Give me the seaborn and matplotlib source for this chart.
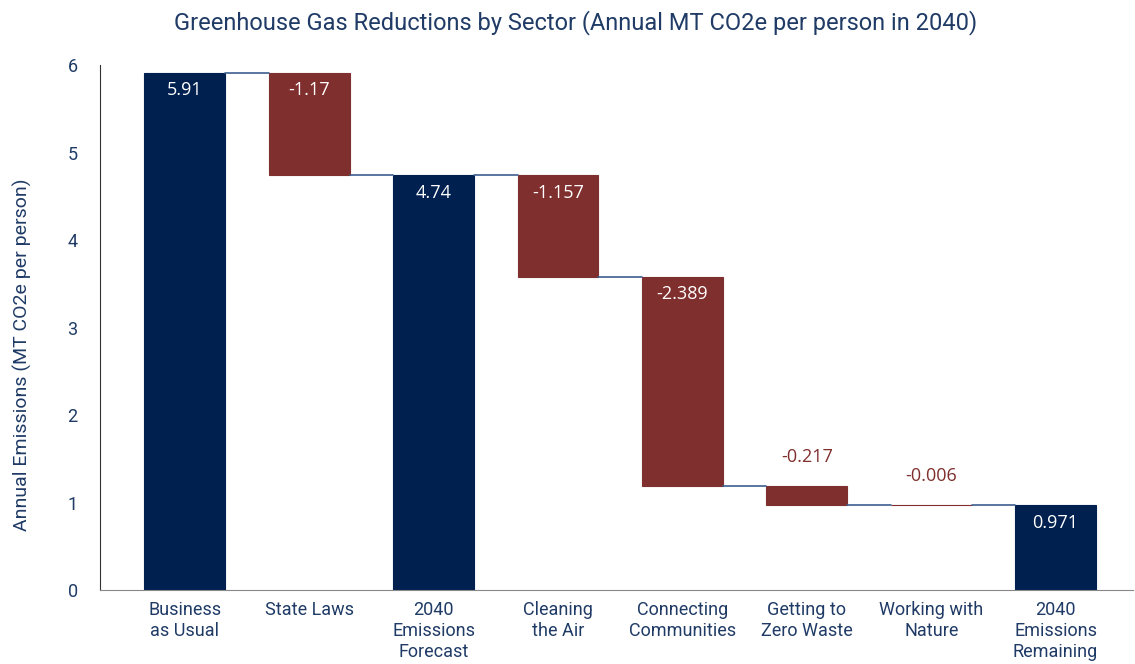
import matplotlib
matplotlib.use("Agg")
import matplotlib.pyplot as plt
import seaborn as sns
import numpy as np

sns.set_style("white")
plt.rcParams['font.family'] = ['Roboto', 'DejaVu Sans']

# data
sectors = ["Business\nas Usual", "State Laws", "2040\nEmissions\nForecast", "Cleaning\nthe Air",
           "Connecting\nCommunities", "Getting to\nZero Waste", "Working with\nNature",
           "2040\nEmissions\nRemaining"]
values = [5.91, -1.17, 4.74, -1.157, -2.389, -0.217, -0.006, 0.971]
is_total = [True, False, True, False, False, False, False, True]
labels = ["5.91", "-1.17", "4.74", "-1.157", "-2.389", "-0.217", "-0.006", "0.971"]

NAVY = "#002050"
RED = "#7f2f2d"
TXT = "#1f3b66"

# waterfall bottoms / heights
bottoms, heights, tops = [], [], []
level = 0.0
for v, tot in zip(values, is_total):
    if tot:
        level = v
        bottoms.append(0.0)
        heights.append(v)
    else:
        new = level + v
        bottoms.append(new)
        heights.append(-v)
        level = new
    tops.append(bottoms[-1] + heights[-1])

fig = plt.figure(figsize=(11.35, 6.64), dpi=100)
ax = fig.add_axes([0.088, 0.1114, 0.910, 0.7907])

bw = 0.65
sns.barplot(x=sectors, y=heights, bottom=bottoms, order=sectors, color=NAVY,
            width=bw, errorbar=None, ax=ax, linewidth=0, saturation=1)
for p, tot in zip(ax.patches, is_total):
    p.set_facecolor(NAVY if tot else RED)
    p.set_edgecolor(NAVY if tot else RED)
    p.set_linewidth(0.8)

# connectors
for i in range(len(values) - 1):
    lvl = tops[i] if (is_total[i] or i == 0) else bottoms[i]
    ax.plot([i + bw / 2, i + 1 - bw / 2], [lvl, lvl], color="#3d5f8f", lw=1.2, zorder=3)

# value labels
for i, (b, h) in enumerate(zip(bottoms, heights)):
    top = b + h
    if h > 0.5:
        ax.text(i, top - 0.2, labels[i], ha="center", va="center", color="white",
                fontsize=13, family=["Open Sans", "DejaVu Sans"])
    else:
        ax.text(i, top + 0.33, labels[i], ha="center", va="center", color=RED,
                fontsize=13, family=["Open Sans", "DejaVu Sans"])

ax.set_ylim(0, 6)
ax.set_xlim(-0.683, 7.62)
ax.set_yticks(range(7))
ax.tick_params(axis="y", length=10, width=1, color=TXT, labelcolor=TXT, labelsize=13, pad=6)
ax.tick_params(axis="x", length=0, labelcolor=TXT, labelsize=13, pad=8)
for t in ax.get_xticklabels():
    t.set_linespacing(1.2)
ax.set_ylabel("Annual Emissions (MT CO2e per person)", color=TXT, fontsize=14)
ax.yaxis.set_label_coords(-0.066, 0.448)
ax.set_xlabel("")

for s in ["top", "right"]:
    ax.spines[s].set_visible(False)
ax.spines["left"].set_color("#333333")
ax.spines["bottom"].set_color("#888888")

fig.suptitle("Greenhouse Gas Reductions by Sector (Annual MT CO2e per person in 2040)",
             x=0.507, y=0.985, fontsize=17, color=TXT)

fig.savefig("out.png", dpi=100)
